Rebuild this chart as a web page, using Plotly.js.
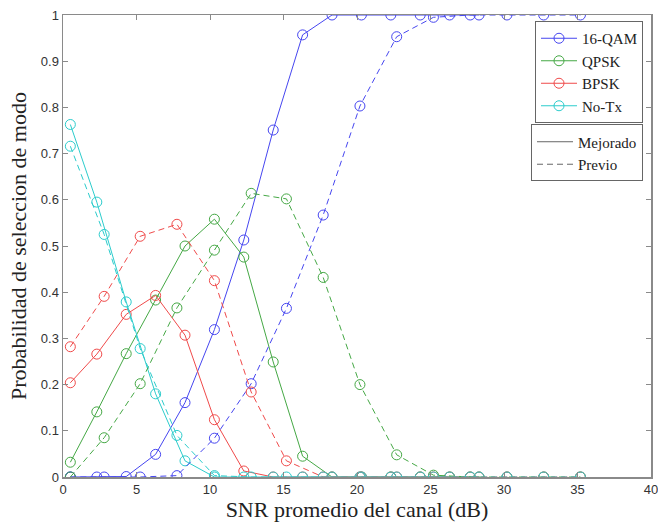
<!DOCTYPE html>
<html>
<head>
<meta charset="utf-8">
<script src="https://cdn.plot.ly/plotly-3.0.1.min.js"></script>
<style>html,body{margin:0;padding:0;background:#fff;}#chart{width:658px;height:522px;}</style>
</head>
<body>
<div id="chart"></div>
<script>
// SNR points (dB)
var snrMejorado = [0.5, 2.3, 4.3, 6.3, 8.3, 10.3, 12.3, 14.3, 16.3, 18.3, 20.3, 22.3, 24.3, 26.3, 28.3];
var snrPrevio   = [0.5, 2.8, 5.25, 7.75, 10.3, 12.8, 15.2, 17.7, 20.2, 22.7, 25.2, 27.7, 30.2, 32.7, 35.2];

// Mode selection probabilities
var qam16Mejorado = [0, 0, 0.001, 0.049, 0.161, 0.319, 0.513, 0.751, 0.957, 1, 1, 1, 1, 1, 1];
var qam16Previo   = [0, 0, 0, 0.003, 0.084, 0.202, 0.365, 0.567, 0.803, 0.953, 0.995, 1, 1, 1, 1];
var qpskMejorado  = [0.032, 0.141, 0.267, 0.383, 0.5, 0.558, 0.476, 0.249, 0.045, 0, 0, 0, 0, 0, 0];
var qpskPrevio    = [0, 0.085, 0.202, 0.366, 0.491, 0.614, 0.602, 0.432, 0.2, 0.048, 0.004, 0, 0, 0, 0];
var bpskMejorado  = [0.204, 0.266, 0.352, 0.393, 0.307, 0.124, 0.013, 0, 0, 0, 0, 0, 0, 0, 0];
var bpskPrevio    = [0.282, 0.391, 0.521, 0.547, 0.425, 0.184, 0.035, 0, 0, 0, 0, 0, 0, 0, 0];
var notxMejorado  = [0.763, 0.595, 0.379, 0.18, 0.035, 0, 0, 0, 0, 0, 0, 0, 0, 0, 0];
var notxPrevio    = [0.716, 0.525, 0.278, 0.09, 0.003, 0, 0, 0, 0, 0, 0, 0, 0, 0, 0];

var modeNames = ['16-QAM', 'QPSK', 'BPSK', 'No-Tx'];
var styleNames = ['Mejorado', 'Previo'];
var xTickVals = [0, 5, 10, 15, 20, 25, 30, 35, 40];
var yTickVals = [0, 0.1, 0.2, 0.3, 0.4, 0.5, 0.6, 0.7, 0.8, 0.9, 1];
var yTickText = ['0', '0.1', '0.2', '0.3', '0.4', '0.5', '0.6', '0.7', '0.8', '0.9', '1'];

var colors = ['#4646f0', '#45a845', '#f04a4a', '#2ccccc'];
var DASH = '6px,4px';
var mej = [qam16Mejorado, qpskMejorado, bpskMejorado, notxMejorado];
var prev = [qam16Previo, qpskPrevio, bpskPrevio, notxPrevio];

var traces = [];
for (var i = 0; i < 4; i++) {
  traces.push({
    x: snrMejorado, y: mej[i], type: 'scatter', mode: 'lines+markers',
    name: modeNames[i], legend: 'legend', showlegend: true,
    line: {color: colors[i], width: 1},
    marker: {symbol: 'circle-open', size: 10, color: colors[i], line: {width: 1}}
  });
}
for (var i = 0; i < 4; i++) {
  traces.push({
    x: snrPrevio, y: prev[i], type: 'scatter', mode: 'lines+markers',
    name: modeNames[i] + ' previo', showlegend: false,
    line: {color: colors[i], width: 1, dash: DASH},
    marker: {symbol: 'circle-open', size: 10, color: colors[i], line: {width: 1}}
  });
}
// style legend entries
traces.push({x: [null], y: [null], type: 'scatter', mode: 'lines', name: styleNames[0],
  legend: 'legend2', line: {color: '#666', width: 1}});
traces.push({x: [null], y: [null], type: 'scatter', mode: 'lines', name: styleNames[1],
  legend: 'legend2', line: {color: '#666', width: 1, dash: DASH}});

var axisCommon = {
  showgrid: false, zeroline: false, showline: true, mirror: 'ticks',
  linecolor: '#8a8a8a', linewidth: 1.5, ticks: 'inside', ticklen: 5, tickcolor: '#8a8a8a',
  ticklabeloverflow: 'allow',
  tickfont: {family: 'Liberation Sans, Arial, sans-serif', size: 13, color: '#333'}
};

var legendFont = {family: 'Liberation Serif, Times New Roman, serif', size: 15, color: '#222'};

var layout = {
  width: 658, height: 522,
  margin: {l: 63, r: 7, t: 15, b: 45},
  paper_bgcolor: '#fff', plot_bgcolor: '#fff',
  xaxis: Object.assign({}, axisCommon, {
    range: [0, 40], tickvals: xTickVals,
    title: {text: 'SNR promedio del canal (dB)', standoff: 4,
      font: {family: 'Liberation Serif, Times New Roman, serif', size: 22, color: '#222'}}
  }),
  yaxis: Object.assign({}, axisCommon, {
    range: [0, 1], tickvals: yTickVals, ticktext: yTickText,
    title: {text: 'Probabilidad de seleccion de modo', standoff: 8,
      font: {family: 'Liberation Serif, Times New Roman, serif', size: 22, color: '#222'}}
  }),
  legend: {
    x: 0.9864, xanchor: 'right', y: 0.987, yanchor: 'top',
    bgcolor: '#fff', bordercolor: '#666', borderwidth: 1,
    font: legendFont, tracegroupgap: 0, itemwidth: 36
  },
  legend2: {
    x: 0.9864, xanchor: 'right', y: 0.763, yanchor: 'top',
    bgcolor: '#fff', bordercolor: '#666', borderwidth: 1,
    font: legendFont, itemwidth: 36
  },
  showlegend: true
};

Plotly.newPlot('chart', traces, layout, {staticPlot: true, displayModeBar: false});
</script>
</body>
</html>
